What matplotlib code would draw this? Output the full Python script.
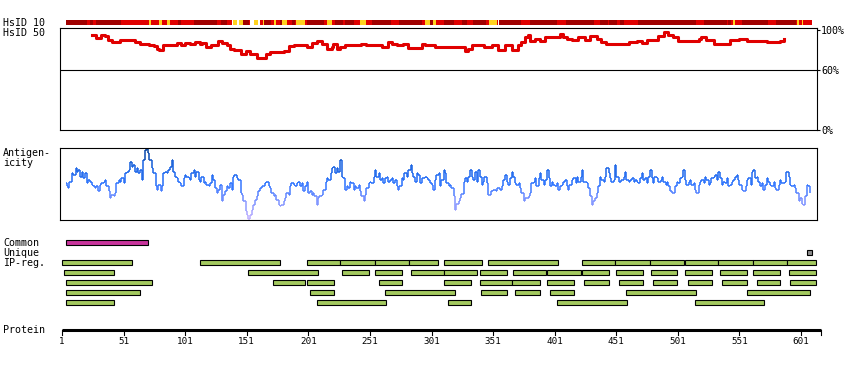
""" Protein feature overview: identity strip, HsID 50 profile, antigenicity and region tracks. """

import matplotlib.pyplot as plt
from matplotlib import colors
from matplotlib.collections import LineCollection

# ---------------- data ----------------

protein_length = 617
axis_ticks = [1, 51, 101, 151, 201, 251, 301, 351, 401, 451, 501, 551, 601]

# HsID 10 strip: segment start residues and identity level (D dark, R red, Y yellow, W white)
strip_starts = [4, 21, 24, 26, 29, 49, 72, 73, 80, 82, 86, 89, 95, 98, 108, 127, 130, 135,
                139, 140, 143, 145, 148, 153, 154, 157, 160, 162, 164, 165, 171, 173, 175,
                178, 180, 184, 188, 190, 191, 198, 200, 214, 216, 220, 223, 229, 231, 238,
                243, 248, 253, 268, 275, 293, 296, 300, 302, 305, 311, 319, 326, 330, 335,
                345, 348, 354, 355, 356, 374, 381, 403, 410, 433, 438, 444, 445, 452, 454,
                457, 469, 516, 522, 541, 542, 544, 546, 547, 553, 574, 581, 597, 598, 599,
                602, 603]
strip_levels = ["D", "R", "D", "R", "D", "R", "Y", "R", "Y", "R", "Y", "R", "D", "R", "D", "R", "D", "R",
                "W", "Y", "W", "Y", "D", "R", "W", "Y", "W", "R", "Y", "D", "R", "Y", "R",
                "D", "Y", "R", "D", "R", "Y", "R", "D", "R", "Y", "R", "D", "R", "D", "R",
                "Y", "R", "D", "R", "D", "R", "Y", "D", "Y", "R", "D", "R", "D", "R", "D",
                "R", "Y", "R", "W", "D", "R", "D", "R", "D", "R", "D", "R", "D", "R", "D",
                "R", "D", "R", "D", "R", "D", "R", "Y", "R", "D", "R", "D", "R", "Y", "R",
                "Y", "R"]
strip_end = 610

# HsID 50 identity profile (%)
hsid50_res = [25, 29, 33, 36, 38, 42, 46, 48, 58, 60, 64, 70, 72, 76, 78, 80, 83, 91, 94, 98,
              101, 105, 109, 113, 115, 118, 122, 128, 131, 135, 137, 141, 146, 150, 154, 156,
              159, 163, 167, 170, 173, 181, 185, 189, 196, 200, 204, 208, 212, 216, 220, 221,
              224, 227, 231, 242, 244, 248, 257, 261, 266, 269, 273, 278, 282, 290, 293, 296,
              304, 306, 320, 328, 331, 334, 340, 344, 350, 355, 361, 366, 371, 374, 377, 379,
              381, 385, 389, 393, 401, 405, 408, 411, 415, 420, 426, 430, 435, 439, 443, 458,
              461, 468, 472, 476, 480, 485, 490, 493, 497, 501, 513, 518, 520, 524, 530, 541,
              543, 551, 557, 573, 581, 584, 587]
hsid50_val = [95, 92.7, 95, 94, 90.7, 88.3, 88.3, 90.7, 90.7, 88.3, 86.7, 86.7, 85, 84, 81.7,
              80.7, 85, 85, 87.3, 85, 87.3, 86.7, 88.3, 86.7, 87.3, 83.3, 85, 89.3, 87.7, 85,
              81.7, 80, 76.7, 79.3, 76.7, 76, 72.7, 72.7, 76.7, 78.3, 78.3, 79.3, 84, 85.7, 85,
              83.3, 87.7, 89.3, 86.7, 81.7, 83.3, 86, 81.7, 83.3, 85.7, 85.7, 86.7, 85, 85,
              83.3, 88.3, 86.7, 85.7, 86.7, 82.7, 82.7, 86.7, 85, 83.3, 83.3, 83.3, 79.3, 81.7,
              85.7, 85.7, 83.3, 85.7, 80.7, 85.7, 80.7, 85, 88.3, 93.3, 95, 89.3, 91.7, 89.3,
              93.3, 93.3, 96.7, 93.3, 91.7, 90.7, 93.3, 90.7, 94, 91.7, 88.3, 86.7, 86.7, 88.3,
              89.3, 87.7, 90.7, 90.7, 94, 98.3, 95, 93.3, 89.3, 89.3, 91.7, 93.3, 90, 86.7,
              86.7, 90.7, 91.7, 89.3, 88.3, 88.3, 89, 91.7]

# Antigenicity profile (relative score, 0-100 of panel range)
antigen_res = [4, 5, 6, 7, 9, 10, 12, 13, 14, 16, 17, 18, 20, 21, 22, 24, 25, 26, 28, 29,
               30, 32, 33, 35, 36, 37, 39, 40, 41, 43, 44, 45, 47, 48, 49, 51, 52, 54, 55, 56,
               58, 59, 60, 62, 63, 64, 66, 67, 68, 70, 71, 72, 74, 75, 77, 78, 79, 81, 82, 83,
               85, 86, 87, 89, 90, 91, 93, 94, 95, 97, 98, 100, 101, 102, 104, 105, 106, 108, 109, 110,
               112, 113, 114, 116, 117, 118, 120, 121, 123, 124, 125, 127, 128, 129, 131, 132, 133, 135, 136, 137,
               139, 140, 141, 143, 144, 146, 147, 148, 150, 151, 152, 154, 155, 156, 158, 159, 160, 162, 163, 164,
               166, 167, 169, 170, 171, 173, 174, 175, 177, 178, 179, 181, 182, 183, 185, 186, 187, 189, 190, 192,
               193, 194, 196, 197, 198, 200, 201, 202, 204, 205, 206, 208, 209, 210, 212, 213, 215, 216, 217, 219,
               220, 221, 223, 224, 225, 227, 228, 229, 231, 232, 233, 235, 236, 238, 239, 240, 242, 243, 244, 246,
               247, 248, 250, 251, 252, 254, 255, 256, 258, 259, 261, 262, 263, 265, 266, 267, 269, 270, 271, 273,
               274, 275, 277, 278, 279, 281, 282, 284, 285, 286, 288, 289, 290, 292, 293, 294, 296, 297, 298, 300,
               301, 302, 304, 305, 307, 308, 309, 311, 312, 313, 315, 316, 317, 319, 320, 321, 323, 324, 325, 327,
               328, 330, 331, 332, 334, 335, 336, 338, 339, 340, 342, 343, 344, 346, 347, 349, 350, 351, 353, 354,
               355, 357, 358, 359, 361, 362, 363, 365, 366, 367, 369, 370, 372, 373, 374, 376, 377, 378, 380, 381,
               382, 384, 385, 386, 388, 389, 390, 392, 393, 395, 396, 397, 399, 400, 401, 403, 404, 405, 407, 408,
               409, 411, 412, 413, 415, 416, 418, 419, 420, 422, 423, 424, 426, 427, 428, 430, 431, 432, 434, 435,
               436, 438, 439, 441, 442, 443, 445, 446, 447, 449, 450, 451, 453, 454, 455, 457, 458, 459, 461, 462,
               464, 465, 466, 468, 469, 470, 472, 473, 474, 476, 477, 478, 480, 481, 482, 484, 485, 487, 488, 489,
               491, 492, 493, 495, 496, 497, 499, 500, 501, 503, 504, 505, 507, 508, 510, 511, 512, 514, 515, 516,
               518, 519, 520, 522, 523, 524, 526, 527, 528, 530, 531, 533, 534, 535, 537, 538, 539, 541, 542, 543,
               545, 546, 547, 549, 550, 551, 553, 554, 556, 557, 558, 560, 561, 562, 564, 565, 566, 568, 569, 570,
               572, 573, 574, 576, 577, 579, 580, 581, 583, 584, 585, 587, 588, 589, 591, 592, 593, 595, 596, 597,
               599, 600, 602, 603, 604, 606, 607, 608]
antigen_val = [51, 47, 44, 53, 65, 63, 72, 67, 70, 60, 67, 58, 65, 51, 56, 53, 49, 47, 44, 47,
               40, 49, 51, 53, 56, 47, 40, 30, 35, 33, 37, 51, 56, 53, 58, 51, 65, 67, 70, 81,
               74, 77, 67, 72, 65, 70, 56, 84, 98, 100, 93, 84, 72, 65, 47, 42, 49, 40, 47, 65,
               67, 65, 70, 74, 84, 67, 60, 58, 53, 51, 47, 58, 63, 60, 58, 56, 65, 70, 60, 67,
               56, 53, 60, 51, 53, 49, 47, 51, 63, 56, 44, 37, 42, 49, 26, 35, 40, 47, 44, 51,
               42, 60, 63, 58, 56, 37, 35, 26, 12, 7, 2, 7, 14, 21, 28, 33, 40, 44, 47, 47,
               51, 53, 47, 44, 37, 33, 35, 28, 21, 19, 21, 26, 30, 37, 35, 47, 51, 49, 47, 51,
               53, 47, 51, 40, 47, 53, 37, 40, 35, 37, 33, 21, 30, 33, 35, 42, 53, 58, 56, 65,
               72, 74, 65, 72, 67, 84, 60, 58, 42, 47, 44, 53, 51, 42, 47, 44, 49, 40, 33, 26,
               35, 44, 51, 53, 51, 60, 70, 60, 65, 56, 58, 51, 58, 60, 53, 56, 58, 51, 56, 47,
               42, 47, 58, 56, 65, 60, 70, 77, 65, 60, 53, 65, 63, 51, 58, 58, 60, 58, 56, 51,
               49, 42, 56, 63, 65, 47, 56, 70, 65, 51, 47, 49, 44, 33, 14, 23, 27, 30, 36, 53,
               58, 53, 60, 70, 60, 56, 67, 53, 70, 60, 49, 53, 60, 51, 35, 40, 40, 42, 40, 44,
               44, 42, 47, 56, 63, 53, 49, 58, 67, 60, 51, 49, 51, 44, 37, 26, 30, 30, 33, 37,
               51, 53, 58, 47, 58, 65, 56, 49, 56, 70, 58, 47, 53, 49, 47, 51, 42, 47, 49, 53,
               56, 47, 42, 49, 56, 58, 51, 60, 53, 60, 70, 53, 53, 51, 44, 33, 21, 26, 30, 37,
               47, 60, 56, 53, 60, 72, 65, 58, 53, 56, 77, 60, 53, 53, 56, 60, 67, 56, 53, 56,
               58, 53, 56, 53, 51, 58, 65, 56, 58, 51, 60, 70, 58, 51, 60, 58, 53, 56, 60, 53,
               49, 53, 47, 40, 37, 37, 47, 53, 51, 58, 60, 70, 56, 49, 53, 56, 49, 51, 42, 37,
               49, 53, 56, 51, 60, 56, 49, 51, 58, 60, 63, 56, 67, 58, 49, 53, 51, 58, 47, 49,
               53, 56, 60, 63, 56, 49, 42, 40, 47, 56, 58, 49, 67, 70, 58, 60, 53, 47, 51, 42,
               49, 58, 53, 49, 47, 53, 44, 42, 49, 56, 51, 51, 53, 67, 60, 49, 47, 49, 44, 37,
               26, 30, 23, 21, 33, 49, 47, 37]

# Region tracks (start, end residue)
common_regions = [(4, 71)]
unique_regions = [(606, 610)]
ipreg_row1 = [(1, 58), (113, 178), (200, 227), (227, 255), (255, 283), (283, 306), (311, 342),
              (347, 404), (423, 450), (450, 478), (478, 506), (507, 534), (534, 562), (562, 590),
              (590, 613)]
ipreg_row2 = [(3, 43), (152, 209), (228, 250), (255, 277), (284, 311), (311, 338), (340, 362),
              (367, 394), (395, 422), (423, 445), (451, 473), (479, 500), (507, 529), (535, 557),
              (562, 584), (591, 613)]
ipreg_row3 = [(4, 74), (172, 198), (200, 222), (258, 277), (311, 333), (340, 366), (366, 389),
              (395, 417), (425, 445), (453, 473), (481, 500), (509, 529), (537, 557), (565, 584),
              (592, 613)]
ipreg_row4 = [(4, 64), (202, 222), (263, 320), (341, 362), (369, 389), (397, 417), (459, 516),
              (557, 608)]
ipreg_row5 = [(4, 43), (208, 264), (314, 333), (403, 460), (515, 571)]

# ---------------- layout helpers ----------------

W, H = 850, 370
PX_PER_RES = 1.2317
X_RES1 = 62

level_colours = {"D": "#a00000", "R": "#e00000", "Y": "#ffd21e", "W": "#ffffff"}
green = "#a3c95f"

plt.rcParams['font.family'] = ['DejaVu Sans Mono']
FS = 7.2


def res_lim(px_left, px_right):
    return ((px_left - X_RES1) / PX_PER_RES + 1, (px_right - X_RES1) / PX_PER_RES + 1)


def add_panel(fig, left, top, right, bottom):
    ax = fig.add_axes([left / W, 1 - bottom / H, (right - left) / W, (bottom - top) / H])
    ax.set_xlim(*res_lim(left, right))
    ax.patch.set_alpha(0)
    return ax


def draw_regions(ax, regions, y, colour):
    starts = [s for s, e in regions]
    widths = [e - s for s, e in regions]
    ax.barh([y] * len(regions), widths, left=starts, height=4.6,
            color=colour, edgecolor="black", linewidth=0.8)


fig = plt.figure(figsize=(W / 100, H / 100), dpi=100)

# Base track axes: x in residues, y in pixels from top
base = add_panel(fig, 0, 0, W, H)
base.set_ylim(H, 0)
base.axis("off")

# HsID 10 strip
strip_ends = strip_starts[1:] + [strip_end]
for s, e, lev in zip(strip_starts, strip_ends, strip_levels):
    base.broken_barh([(s, e - s)], (19.7, 5), facecolor=level_colours[lev], edgecolor="none")

# Region tracks
draw_regions(base, common_regions, 242.5, "#c8349c")
draw_regions(base, unique_regions, 252.5, "#8c8c8c")
for i, row in enumerate([ipreg_row1, ipreg_row2, ipreg_row3, ipreg_row4, ipreg_row5]):
    draw_regions(base, row, 262.3 + 10 * i, green)

# Protein axis
base.plot([1, protein_length], [330, 330], color="black", lw=2.2, solid_capstyle="butt")
for t in axis_ticks + [protein_length]:
    base.plot([t, t], [330, 335], color="black", lw=0.8)
for t in axis_ticks:
    base.text(t, 342, str(t), ha="center", va="center", fontsize=FS - 0.5)

# Track labels
labels = [("HsID 10", 22.5), ("HsID 50", 33), ("Antigen-", 153), ("icity", 163),
          ("Common", 243), ("Unique", 252.5), ("IP-reg.", 262.5), ("Protein", 330)]
for txt, y in labels:
    base.text(res_lim(3, 3)[0], y, txt, ha="left", va="center", fontsize=FS)

# HsID 50 panel
ax50 = add_panel(fig, 60, 28.3, 817, 130.3)
ax50.set_ylim(0, 102)
ax50.plot(hsid50_res, hsid50_val, color="#e00000", lw=2.2, drawstyle="steps-post")
ax50.axhline(60, color="black", lw=0.8)
ax50.yaxis.tick_right()
ax50.set_yticks([0, 60, 100])
ax50.set_yticklabels(["0%", "60%", "100%"], fontsize=FS)
ax50.tick_params(axis="y", length=2, width=0.8, pad=1)
ax50.set_xticks([])
for sp in ax50.spines.values():
    sp.set_linewidth(0.8)

# Antigenicity panel, drawn as a stepped trace coloured by score
axag = add_panel(fig, 60, 148.3, 817, 220)
axag.set_ylim(0, 100)
cmap = colors.LinearSegmentedColormap.from_list(
    "antigen", [(0.0, "#c8b4ff"), (0.3, "#6f8cff"), (0.5, "#2a72ff"), (0.75, "#1560e0"), (1.0, "#003a90")])
segments, seg_vals = [], []
for i in range(len(antigen_res) - 1):
    x0, x1 = antigen_res[i], antigen_res[i + 1]
    y0, y1 = antigen_val[i], antigen_val[i + 1]
    segments.append([(x0, y0), (x1, y0)])
    seg_vals.append(y0 / 100)
    segments.append([(x1, y0), (x1, y1)])
    seg_vals.append((y0 + y1) / 200)
lc = LineCollection(segments, colors=cmap(seg_vals), linewidths=1.1)
axag.add_collection(lc)
axag.set_xticks([])
axag.set_yticks([])
for sp in axag.spines.values():
    sp.set_linewidth(0.8)

fig.savefig("out.png", dpi=100)
